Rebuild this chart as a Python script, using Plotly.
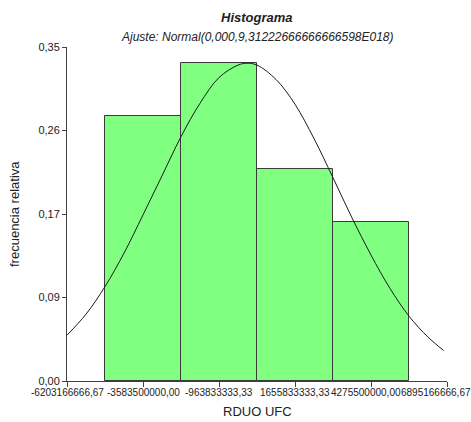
import plotly.graph_objects as go

# Bin centres (also the axis tick positions) and their printed labels
tick_values = [-6203166666.67, -3583500000.00, -963833333.33,
               1655833333.33, 4275500000.00, 6895166666.67]
tick_labels = ["-6203166666,67", "-3583500000,00", "-963833333,33",
               "1655833333,33", "4275500000,00", "6895166666,67"]

# Histogram: relative frequency of each class
bin_centers = tick_values[1:5]
rel_freq = [0.278, 0.333, 0.222, 0.167]

# Fitted normal curve, sampled along the axis
curve_x = [-6.203e9, -5.548e9, -4.893e9, -4.238e9, -3.584e9, -2.929e9,
           -2.274e9, -1.619e9, -0.964e9, -0.309e9, 0.0, 0.346e9, 1.001e9,
           1.656e9, 2.311e9, 2.966e9, 3.620e9, 4.275e9, 4.930e9, 5.585e9,
           6.240e9, 6.780e9]
curve_y = [0.048, 0.070, 0.099, 0.134, 0.174, 0.215, 0.256, 0.291, 0.318,
           0.331, 0.333, 0.331, 0.316, 0.290, 0.254, 0.213, 0.171, 0.132,
           0.097, 0.068, 0.046, 0.032]

# Y axis ticks
y_ticks = [0.0, 0.0875, 0.175, 0.2625, 0.35]
y_tick_labels = ["0,00", "0,09", "0,17", "0,26", "0,35"]

FONT = "Liberation Sans, Arial, sans-serif"
TXT = "#222222"
AXC = "#404040"

bin_width = bin_centers[1] - bin_centers[0]

fig = go.Figure()
fig.add_trace(go.Bar(
    x=bin_centers, y=rel_freq, width=[bin_width] * len(bin_centers),
    marker=dict(color="#80FF80", line=dict(color="#3a3a3a", width=1)),
    hoverinfo="skip", showlegend=False,
))
fig.add_trace(go.Scatter(
    x=curve_x, y=curve_y, mode="lines",
    line=dict(color="#1a1a1a", width=1, shape="spline", smoothing=1.0),
    hoverinfo="skip", showlegend=False,
))

# x tick labels: long numbers, nudged so the last ones fit inside the page
label_shift = [0, 0, 0, 0, -5, 24]
annotations = []
for i, (v, t) in enumerate(zip(tick_values, tick_labels)):
    last = i == len(tick_values) - 1
    annotations.append(dict(
        x=v, xref="x", y=0, yref="paper", yanchor="top",
        xanchor="right" if last else "center",
        xshift=label_shift[i], yshift=-6,
        text=t, showarrow=False, borderpad=0, borderwidth=0,
        font=dict(family=FONT, size=10, color=TXT),
    ))
annotations += [
    dict(x=0.5, xref="paper", y=1, yref="paper", yanchor="middle",
         yshift=30, text="<b><i>Histograma</i></b>", showarrow=False,
         font=dict(family=FONT, size=13, color=TXT)),
    dict(x=0.5, xref="paper", y=1, yref="paper", yanchor="middle",
         yshift=10, text="<i>Ajuste: Normal(0,000,9,31222666666666598E018)</i>",
         showarrow=False, font=dict(family=FONT, size=12, color=TXT)),
    dict(x=0.5, xref="paper", y=0, yref="paper", yanchor="middle",
         yshift=-30, text="RDUO UFC", showarrow=False,
         font=dict(family=FONT, size=13, color=TXT)),
    dict(x=0, xref="paper", y=0.5, yref="paper", xanchor="center",
         yanchor="middle", xshift=-53, textangle=-90,
         text="frecuencia relativa", showarrow=False,
         font=dict(family=FONT, size=13, color=TXT)),
]

fig.update_layout(
    width=471, height=422,
    margin=dict(l=67, r=24, t=47, b=41),
    paper_bgcolor="white", plot_bgcolor="white",
    bargap=0,
    font=dict(family=FONT, size=11, color=TXT),
    xaxis=dict(
        range=[tick_values[0], tick_values[-1]],
        tickmode="array", tickvals=tick_values, showticklabels=False,
        ticks="outside", ticklen=5, tickcolor=AXC, tickwidth=1,
        showline=True, linecolor=AXC, linewidth=1,
        showgrid=False, zeroline=False,
    ),
    yaxis=dict(
        range=[0, 0.35],
        tickmode="array", tickvals=y_ticks, ticktext=y_tick_labels,
        ticks="outside", ticklen=4, tickcolor=AXC, tickwidth=1,
        showline=True, linecolor=AXC, linewidth=1,
        showgrid=False, zeroline=False,
        tickfont=dict(family=FONT, size=11, color=TXT),
    ),
    annotations=annotations,
)

fig.write_html("out.html")
